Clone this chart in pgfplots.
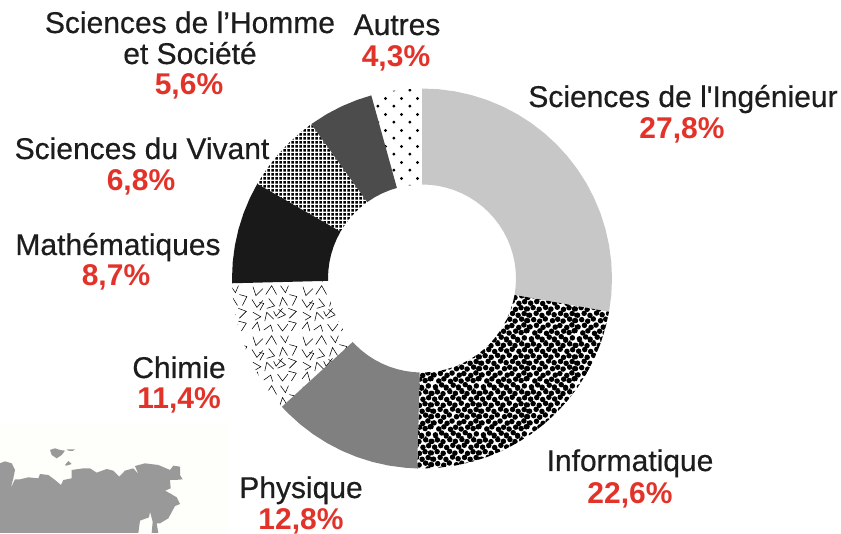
\documentclass[border=0pt]{standalone}
\usepackage{pgfplots}
\pgfplotsset{compat=1.18}
\usepackage{fontspec}
\setmainfont{Liberation Sans}
\newfontfamily\labfont{Liberation Sans}[FakeBold=0.5]
\usepgfplotslibrary{polar}
\usetikzlibrary{patterns}
\definecolor{redlab}{HTML}{E2332A}
\definecolor{textc}{HTML}{1D1D1B}
\definecolor{creamc}{HTML}{FEFEFA}
\pgfdeclarepatternformonly{autresdots}{\pgfqpoint{0pt}{0pt}}{\pgfqpoint{15.6pt}{15.6pt}}{\pgfqpoint{15.6pt}{15.6pt}}{%
  \pgfpathcircle{\pgfqpoint{3.9pt}{3.9pt}}{1.6pt}%
  \pgfpathcircle{\pgfqpoint{11.7pt}{11.7pt}}{1.6pt}%
  \pgfusepath{fill}}
\pgfdeclarepatternformonly{vivantgrid}{\pgfqpoint{0pt}{0pt}}{\pgfqpoint{3.5pt}{3.5pt}}{\pgfqpoint{3.5pt}{3.5pt}}{%
  \pgfpathrectangle{\pgfqpoint{0.35pt}{0.35pt}}{\pgfqpoint{2.8pt}{2.8pt}}%
  \pgfusepath{fill}}
\pgfdeclarepatternformonly{infoblobs}{\pgfqpoint{0pt}{0pt}}{\pgfqpoint{48pt}{48pt}}{\pgfqpoint{48pt}{48pt}}{%
  \foreach \x/\y in {3.5/2.2,9.8/4.1,14.4/1.8,21.6/3.9,26.9/2.0,33.8/4.4,38.2/1.6,45.1/3.2,
    6.9/8.2,12.1/10.3,18.8/7.8,24.0/9.9,29.6/8.1,36.3/10.0,41.8/8.6,47.0/10.4,
    2.1/14.3,8.6/15.9,15.3/13.9,20.4/16.2,27.7/14.1,32.4/15.7,39.4/13.8,44.6/16.3,
    5.8/21.7,11.9/20.1,17.6/22.4,24.9/20.6,30.2/22.1,35.7/20.3,42.3/22.2,47.5/20.7,
    1.6/26.2,8.3/28.1,14.2/26.0,20.9/28.4,26.6/26.7,33.1/28.0,38.8/26.1,44.9/27.9,
    5.2/33.9,11.4/32.2,17.9/34.1,23.3/32.4,29.8/34.3,36.1/32.1,41.7/33.8,47.3/32.6,
    2.7/38.4,8.9/40.1,14.9/38.1,21.2/40.3,27.1/38.6,32.8/40.4,39.6/38.2,45.4/39.9,
    5.5/45.8,11.2/44.0,18.1/46.1,23.8/44.4,30.4/46.2,35.6/44.1,42.4/45.9,47.9/44.3,
    50.1/14.3,49.6/26.2,-1/10.4,-0.5/20.7,-0.7/32.6,-0.1/44.3,
    3.5/50.2,14.4/49.8,26.9/50,38.2/49.6,5.5/-2.2,18.1/-1.9,30.4/-1.8,42.4/-2.1}{%
    \pgfpathcircle{\pgfpoint{\x pt}{\y pt}}{2.8pt}%
    \pgfusepath{fill}}}
\pgfdeclarepatternformonly{chimievs}{\pgfqpoint{0pt}{0pt}}{\pgfqpoint{50pt}{50pt}}{\pgfqpoint{50pt}{50pt}}{%
  \pgfsetlinewidth{0.55pt}%
  \foreach \a/\b/\c/\d/\e/\f in {2/4/7.5/11/10/2,14/3/21/8/23/1.5,28/9/33/2/38.5/9,42/2/47/10/39/12,
    3/21/11/16.5/5/13,15/12/17/21/24/14,28/15/36/18.5/29/24,40/15/47/22/39/25,
    2/34/7/26/13/33,17/25/25/27.5/19/35,30/27/33/36/38/28,43/28/47.5/37/40/39,
    3/47/6/38/13/45,16/39/22/48/27/39,31/48/36/41/39/48,10/23/14/30/9.5/31,24/22/26.5/17/33/25}{%
    \pgfpathmoveto{\pgfpoint{\a pt}{\b pt}}%
    \pgfpathlineto{\pgfpoint{\c pt}{\d pt}}%
    \pgfpathlineto{\pgfpoint{\e pt}{\f pt}}%
    \pgfusepath{stroke}}}
\begin{document}
\begin{tikzpicture}
\useasboundingbox (0,0) rectangle (841pt,533pt);
\clip (0,0) rectangle (841pt,533pt);
\begin{axis}[
  at={(0,0)}, anchor=south west,
  width=841pt, height=533pt, scale only axis, hide axis,
  xmin=-422, xmax=419, ymin=-254.5, ymax=278.5,
  clip=false,
  every node/.style={inner sep=0pt, outer sep=0pt},
]
% map inset
\addplot[fill=creamc, draw=none] coordinates {(-422,-144.5) (-195.5,-144.5) (-195.5,-254.5) (-422,-254.5)} --cycle;
\addplot[fill=black!40, draw=none] table[x expr=\thisrowno{0}/3-422, y expr=-121.5-\thisrowno{1}/3] {
0 190
15 184
35 190
45 210
40 235
32 265
45 238
60 238
85 232
115 235
120 222
145 225
165 240
183 255
190 240
215 235
215 210
250 205
270 205
290 218
320 207
340 212
358 230
375 212
400 205
415 222
405 198
435 190
475 195
510 210
520 197
540 200
540 225
548 238
525 240
510 240
512 265
495 272
510 280
530 292
540 312
525 318
505 355
480 370
470 370
475 399
455 399
458 365
450 335
447 352
420 362
415 399
0 399
} --cycle;
\addplot[fill=black!40, draw=none] table[x expr=\thisrowno{0}/3-422, y expr=-121.5-\thisrowno{1}/3] {
150 150
165 145
180 150
195 152
185 165
170 175
155 165
} --cycle;
\addplot[fill=black!40, draw=none] table[x expr=\thisrowno{0}/3-422, y expr=-121.5-\thisrowno{1}/3] {
200 148
225 148
218 153
205 152
} --cycle;
\addplot[fill=black!40, draw=none] table[x expr=\thisrowno{0}/3-422, y expr=-121.5-\thisrowno{1}/3] {
195 195
205 183
215 192
200 197
} --cycle;
% donut: Sciences de l'Ingenieur 27.8
\addplot[data cs=polar, fill=black!22, draw=none] coordinates {
(90,190)(85,190)(80,190)(75,190)(70,190)(65,190)(60,190)(55,190)(50,190)(45,190)(40,190)(35,190)(30,190)(25,190)(20,190)(15,190)(10,190)(5,190)(0,190)(-5,190)(-10,190)(-10.08,190)
(-10.08,94)(-10,94)(-5,94)(0,94)(5,94)(10,94)(15,94)(20,94)(25,94)(30,94)(35,94)(40,94)(45,94)(50,94)(55,94)(60,94)(65,94)(70,94)(75,94)(80,94)(85,94)(90,94)
} --cycle;
% Informatique 22.6
\addplot[data cs=polar, pattern=infoblobs, pattern color=black, draw=none] coordinates {
(-10.08,190)(-15,190)(-20,190)(-25,190)(-30,190)(-35,190)(-40,190)(-45,190)(-50,190)(-55,190)(-60,190)(-65,190)(-70,190)(-75,190)(-80,190)(-85,190)(-90,190)(-91.44,190)
(-91.44,94)(-90,94)(-85,94)(-80,94)(-75,94)(-70,94)(-65,94)(-60,94)(-55,94)(-50,94)(-45,94)(-40,94)(-35,94)(-30,94)(-25,94)(-20,94)(-15,94)(-10.08,94)
} --cycle;
% Physique 12.8
\addplot[data cs=polar, fill=black!50, draw=none] coordinates {
(-91.44,190)(-95,190)(-100,190)(-105,190)(-110,190)(-115,190)(-120,190)(-125,190)(-130,190)(-135,190)(-137.52,190)
(-137.52,94)(-135,94)(-130,94)(-125,94)(-120,94)(-115,94)(-110,94)(-105,94)(-100,94)(-95,94)(-91.44,94)
} --cycle;
% Chimie 11.4
\addplot[data cs=polar, pattern=chimievs, pattern color=black, draw=none] coordinates {
(-137.52,190)(-140,190)(-145,190)(-150,190)(-155,190)(-160,190)(-165,190)(-170,190)(-175,190)(-178.56,190)
(-178.56,94)(-175,94)(-170,94)(-165,94)(-160,94)(-155,94)(-150,94)(-145,94)(-140,94)(-137.52,94)
} --cycle;
% Mathematiques 8.7
\addplot[data cs=polar, fill=black!90, draw=none] coordinates {
(-178.56,190)(-180,190)(-185,190)(-190,190)(-195,190)(-200,190)(-205,190)(-209.88,190)
(-209.88,94)(-205,94)(-200,94)(-195,94)(-190,94)(-185,94)(-180,94)(-178.56,94)
} --cycle;
% Sciences du Vivant 6.8
\addplot[data cs=polar, pattern=vivantgrid, pattern color=black, draw=none] coordinates {
(-209.88,190)(-215,190)(-220,190)(-225,190)(-230,190)(-234.36,190)
(-234.36,94)(-230,94)(-225,94)(-220,94)(-215,94)(-209.88,94)
} --cycle;
% SHS 5.6
\addplot[data cs=polar, fill=black!70, draw=none] coordinates {
(-234.36,190)(-240,190)(-245,190)(-250,190)(-254.52,190)
(-254.52,94)(-250,94)(-245,94)(-240,94)(-234.36,94)
} --cycle;
% Autres 4.3
\addplot[data cs=polar, pattern=autresdots, pattern color=black, draw=none] coordinates {
(-254.52,190)(-255,190)(-260,190)(-265,190)(-270,190)
(-270,94)(-265,94)(-260,94)(-255,94)(-254.52,94)
} --cycle;
% labels
\tikzset{lab/.style={anchor=base, text=textc, font=\fontsize{30}{32}\selectfont\labfont},
         val/.style={anchor=base, text=redlab, font=\fontsize{30}{32}\selectfont\bfseries}}
\node[lab] at (axis cs:261,171.5) {Sciences de l'Ingénieur};
\node[val] at (axis cs:260,139.5) {27,8\%};
\node[lab] at (axis cs:208,-192.5) {Informatique};
\node[val] at (axis cs:208,-224.5) {22,6\%};
\node[lab] at (axis cs:-121,-219.5) {Physique};
\node[val] at (axis cs:-121,-250.5) {12,8\%};
\node[lab] at (axis cs:-243,-99.5) {Chimie};
\node[val] at (axis cs:-243,-130.5) {11,4\%};
\node[lab] at (axis cs:-304,23.5) {Mathématiques};
\node[val] at (axis cs:-306,-7.5) {8,7\%};
\node[lab] at (axis cs:-280,119.5) {Sciences du Vivant};
\node[val] at (axis cs:-281,87.5) {6,8\%};
\node[lab] at (axis cs:-232,245.5) {Sciences de l’Homme};
\node[lab] at (axis cs:-232,214.5) {et Société};
\node[val] at (axis cs:-233,183.5) {5,6\%};
\node[lab] at (axis cs:-25,243.5) {Autres};
\node[val] at (axis cs:-26,211.5) {4,3\%};
\end{axis}
\end{tikzpicture}
\end{document}
